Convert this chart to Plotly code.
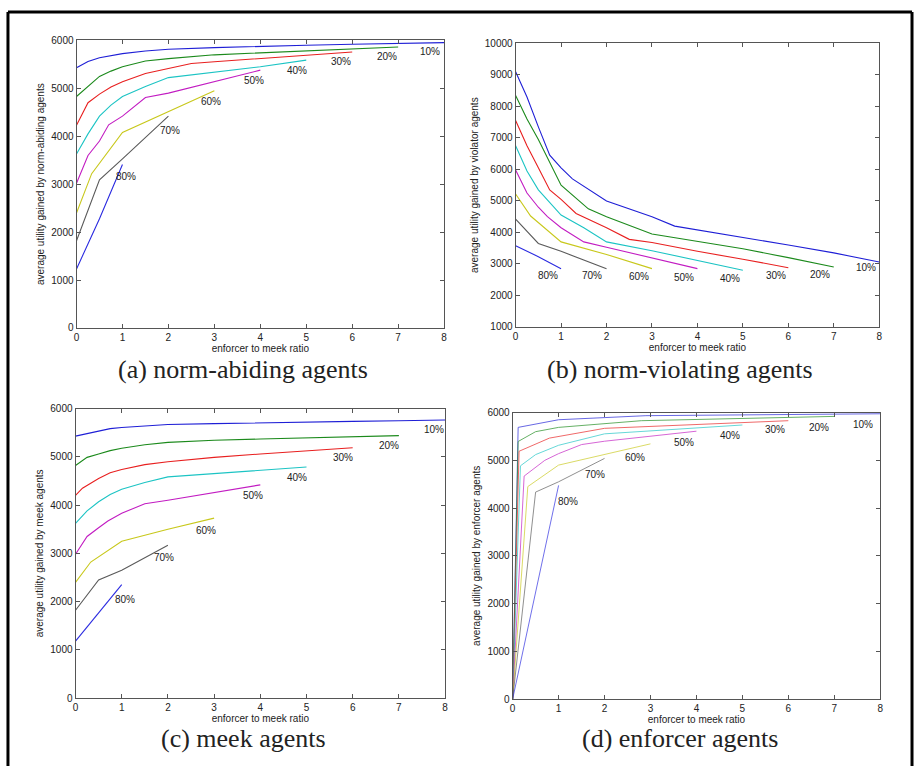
import plotly.graph_objects as go

# ---------------- data ----------------
series_names = ["10%", "20%", "30%", "40%", "50%", "60%", "70%", "80%"]
colors = ["#1f1fd6", "#1c8a1c", "#e82020", "#1cc4c4", "#c21cc2", "#c8c81c", "#5a5a5a", "#2a2ae0"]

# (a) norm-abiding agents
a_x = [
    [0, 0.25, 0.5, 0.75, 1, 1.5, 2, 3, 4, 5, 6, 7, 8],
    [0, 0.25, 0.5, 0.75, 1, 1.5, 2, 3, 4, 5, 6, 7],
    [0, 0.25, 0.5, 0.75, 1, 1.5, 2, 2.5, 3, 4, 5, 6],
    [0, 0.25, 0.5, 0.75, 1, 1.5, 2, 3, 4, 5],
    [0, 0.25, 0.5, 0.7, 1, 1.5, 2, 3, 4],
    [0, 0.33, 1, 2, 3],
    [0, 0.5, 1, 2],
    [0, 0.5, 1],
]
a_y = [
    [5430, 5560, 5640, 5690, 5725, 5780, 5815, 5850, 5880, 5900, 5920, 5940, 5955],
    [4830, 5050, 5250, 5360, 5450, 5570, 5620, 5700, 5745, 5790, 5830, 5865],
    [4230, 4700, 4880, 5030, 5140, 5310, 5415, 5520, 5555, 5620, 5690, 5760],
    [3630, 4050, 4420, 4650, 4830, 5040, 5225, 5345, 5450, 5590],
    [3020, 3600, 3900, 4240, 4420, 4810, 4900, 5140, 5380],
    [2400, 3220, 4080, 4520, 4950],
    [1820, 3090, 3530, 4420],
    [1230, 2280, 3410],
]
a_lbl_x = [7.69, 6.75, 5.75, 4.79, 3.86, 2.92, 2.04, 1.08]
a_lbl_y = [5760, 5670, 5555, 5370, 5160, 4720, 4130, 3155]

# (b) norm-violating agents
b_x = [
    [0, 0.25, 0.5, 0.75, 1, 1.25, 2, 3, 3.5, 5, 6, 7, 8],
    [0, 0.25, 0.5, 0.75, 1, 1.6, 2, 3, 3.5, 5, 6, 7],
    [0, 0.25, 0.5, 0.75, 1, 1.33, 2, 2.5, 3, 4, 5, 6],
    [0, 0.25, 0.5, 1, 1.5, 2, 3, 4, 5],
    [0, 0.25, 0.5, 0.7, 1, 1.5, 2, 3, 4],
    [0, 0.33, 1, 2, 3],
    [0, 0.5, 1, 2],
    [0, 0.5, 1],
]
b_y = [
    [9100, 8300, 7350, 6450, 6050, 5700, 5000, 4500, 4200, 3850, 3600, 3350, 3060],
    [8350, 7600, 6950, 6200, 5500, 4750, 4500, 3950, 3830, 3480, 3200, 2900],
    [7550, 6750, 6050, 5350, 5050, 4600, 4150, 3780, 3680, 3400, 3150, 2880],
    [6750, 5950, 5350, 4550, 4150, 3700, 3420, 3120, 2800],
    [5980, 5250, 4800, 4500, 4150, 3700, 3530, 3200, 2850],
    [5220, 4520, 3700, 3300, 2850],
    [4420, 3650, 3400, 2850],
    [3580, 3230, 2850],
]
b_lbl_x = [7.71, 6.70, 5.72, 4.72, 3.70, 2.71, 1.68, 0.71]
b_lbl_y = [2890, 2670, 2630, 2540, 2560, 2600, 2630, 2630]

# (c) meek agents
c_x = [
    [0, 0.5, 0.75, 1, 2, 3, 4, 5, 6, 7, 8],
    [0, 0.25, 0.5, 0.75, 1, 1.5, 2, 3, 4, 5, 6, 7],
    [0, 0.15, 0.5, 0.75, 1, 1.5, 2, 3, 4, 5, 6],
    [0, 0.25, 0.5, 0.75, 1, 1.5, 2, 3, 4, 5],
    [0, 0.25, 0.5, 0.7, 1, 1.5, 2, 3, 4],
    [0, 0.33, 1, 2, 3],
    [0, 0.5, 1, 2],
    [0, 0.5, 1],
]
c_y = [
    [5430, 5540, 5585, 5610, 5670, 5690, 5710, 5720, 5735, 5750, 5765],
    [4820, 4990, 5060, 5130, 5180, 5250, 5300, 5345, 5370, 5390, 5420, 5440],
    [4200, 4350, 4550, 4670, 4740, 4840, 4900, 4990, 5060, 5130, 5190],
    [3620, 3880, 4070, 4220, 4330, 4470, 4585, 4650, 4720, 4790],
    [2980, 3350, 3530, 3670, 3830, 4030, 4100, 4260, 4420],
    [2400, 2820, 3250, 3500, 3730],
    [1820, 2450, 2650, 3170],
    [1180, 1770, 2350],
]
c_lbl_x = [7.75, 6.78, 5.78, 4.80, 3.85, 2.82, 1.91, 1.07]
c_lbl_y = [5575, 5235, 4985, 4565, 4200, 3480, 2920, 2045]

# (d) enforcer agents
d_x = [
    [0, 0.12, 1, 2.9, 8],
    [0, 0.12, 0.5, 1, 2.8, 7],
    [0, 0.14, 0.8, 2, 6],
    [0, 0.17, 0.5, 1, 2, 5],
    [0, 0.25, 0.7, 1, 1.5, 2, 4],
    [0, 0.33, 1, 3],
    [0, 0.5, 1, 2],
    [0, 1],
]
d_y = [
    [0, 5690, 5850, 5935, 5975],
    [0, 5395, 5600, 5690, 5830, 5920],
    [0, 5190, 5465, 5670, 5830],
    [0, 4885, 5120, 5315, 5555, 5740],
    [0, 4670, 5000, 5140, 5330, 5400, 5610],
    [0, 4450, 4900, 5345],
    [0, 4335, 4550, 5040],
    [0, 4475],
]
d_lbl_x = [7.63, 6.66, 5.72, 4.73, 3.72, 2.67, 1.79, 1.20]
d_lbl_y = [5745, 5685, 5645, 5520, 5370, 5050, 4710, 4130]

x_ticks = list(range(0, 9))
y_ticks_6k = list(range(0, 6001, 1000))
y_ticks_10k = list(range(1000, 10001, 1000))

panels = [
    dict(xs=a_x, ys=a_y, lx=a_lbl_x, ly=a_lbl_y, yr=[0, 6000], yticks=y_ticks_6k,
         ytitle="average utility gained by norm-abiding agents", caption="(a) norm-abiding agents",
         box=(74, 444, 35, 327), cap=(242, 369), w=1.1, op=1.0),
    dict(xs=b_x, ys=b_y, lx=b_lbl_x, ly=b_lbl_y, yr=[1000, 10000], yticks=y_ticks_10k,
         ytitle="average utility gained by violator agents", caption="(b) norm-violating agents",
         box=(516, 882, 38, 326), cap=(681, 369), w=1.1, op=1.0),
    dict(xs=c_x, ys=c_y, lx=c_lbl_x, ly=c_lbl_y, yr=[0, 6000], yticks=y_ticks_6k,
         ytitle="average utility gained by meek agents", caption="(c) meek agents",
         box=(73, 445, 409, 703), cap=(242, 744), w=1.1, op=1.0),
    dict(xs=d_x, ys=d_y, lx=d_lbl_x, ly=d_lbl_y, yr=[0, 6000], yticks=y_ticks_6k,
         ytitle="average utility gained by enforcer agents", caption="(d) enforcer agents",
         box=(513, 883, 413, 704), cap=(681, 744), w=0.9, op=0.75),
]

W, H = 917, 772
fig = go.Figure()
layout = dict(width=W, height=H, margin=dict(l=0, r=0, t=0, b=0),
              paper_bgcolor="white", plot_bgcolor="white", showlegend=False)
annotations = []
shapes = []
axcolor = "#555555"
sans = "Liberation Sans, Arial, sans-serif"
tickfont = dict(family=sans, size=10, color="#222222")

for i, p in enumerate(panels):
    n = "" if i == 0 else str(i + 1)
    xa, ya = "x" + n, "y" + n
    x0, x1, y0, y1 = p["box"]
    for k in range(len(series_names)):
        fig.add_trace(go.Scatter(x=p["xs"][k], y=p["ys"][k], mode="lines",
                                 line=dict(color=colors[k], width=p["w"]), opacity=p["op"],
                                 xaxis=xa, yaxis=ya, hoverinfo="skip"))
        annotations.append(dict(x=p["lx"][k], y=p["ly"][k], xref=xa, yref=ya, text=series_names[k],
                                showarrow=False, font=dict(family=sans, size=10, color="#222222")))
    common = dict(showline=True, mirror="ticks", linecolor=axcolor, linewidth=1, ticks="inside",
                  ticklen=4, tickcolor=axcolor, showgrid=False, zeroline=False, tickfont=tickfont)
    layout["xaxis" + n] = dict(domain=[x0 / W, x1 / W], range=[0, 8], tickvals=x_ticks,
                               ticktext=[str(v) for v in x_ticks],
                               anchor=ya, title=dict(text="enforcer to meek ratio", standoff=0,
                                                     font=dict(family=sans, size=10, color="#222222")),
                               **common)
    layout["yaxis" + n] = dict(domain=[1 - y1 / H, 1 - y0 / H], range=p["yr"], tickvals=p["yticks"],
                               ticktext=[str(v) for v in p["yticks"]],
                               anchor=xa, title=dict(text=p["ytitle"], standoff=4,
                                                     font=dict(family=sans, size=10, color="#222222")),
                               **common)
    cx, cy = p["cap"]
    annotations.append(dict(x=cx / W, y=1 - cy / H, xref="paper", yref="paper", text=p["caption"],
                            showarrow=False, xanchor="center", yanchor="middle",
                            font=dict(family="Liberation Serif, Times New Roman, serif", size=26, color="#222222")))

# outer frame (open at the bottom)
frame = dict(type="line", xref="paper", yref="paper", line=dict(color="black", width=3))
shapes.append(dict(frame, x0=5 / W, x1=915 / W, y0=1 - 6 / H, y1=1 - 6 / H))
shapes.append(dict(frame, x0=5 / W, x1=5 / W, y0=1 - 6 / H, y1=0))
shapes.append(dict(frame, x0=915 / W, x1=915 / W, y0=1 - 6 / H, y1=0))

layout["annotations"] = annotations
layout["shapes"] = shapes
fig.update_layout(**layout)
fig.write_html("out.html", config={"displayModeBar": False},
               post_script="document.body.style.margin='0';")
